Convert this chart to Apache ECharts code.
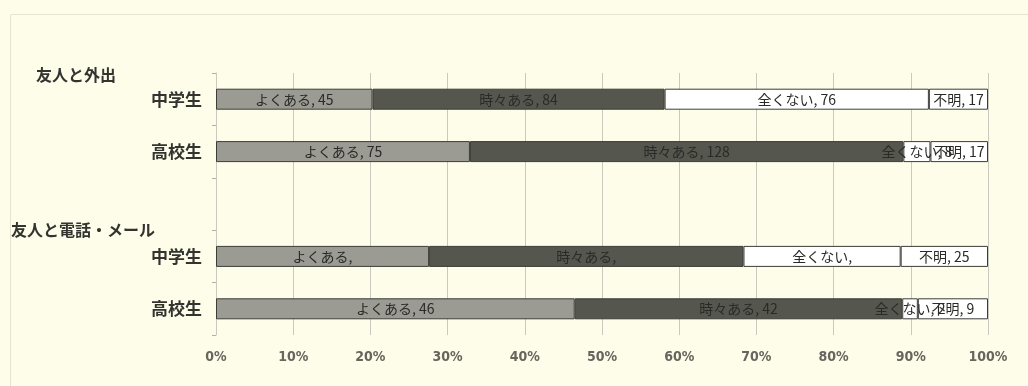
<!DOCTYPE html>
<html>
<head>
<meta charset="utf-8">
<style>
html,body{margin:0;padding:0;background:#fdfde9;}
#c{width:1028px;height:386px;}
</style>
<script src="https://cdn.jsdelivr.net/npm/echarts@6/dist/echarts.min.js"></script>
</head>
<body>
<div id="c"></div>
<script>
// ---- data ----
const categories = ['中学生', '高校生', '', '中学生', '高校生'];
const groupLabels = ['友人と外出', '友人と電話・メール'];
const seriesNames = ['よくある', '時々ある', '全くない', '不明'];
const often     = [45, 75, null, 61, 46];
const sometimes = [84, 128, null, 90, 42];
const never     = [76, 8, null, 45, 2];
const unknown   = [17, 17, null, 25, 9];
const xTickValues = [0, 10, 20, 30, 40, 50, 60, 70, 80, 90, 100];
// labels whose number is not shown in the original (row index, series index)
const numberHidden = ['3-0', '3-1', '3-2'];

const counts = [often, sometimes, never, unknown];
const totals = categories.map((c, i) =>
  counts.reduce((s, arr) => s + (arr[i] == null ? 0 : arr[i]), 0));

const colors = ['#9b9b94', '#55574f', '#ffffff', '#ffffff'];

const series = seriesNames.map((name, si) => ({
  name: name,
  type: 'bar',
  stack: 'total',
  barWidth: 21,
  itemStyle: { color: colors[si], borderColor: '#3d3d38', borderWidth: 1 },
  label: {
    show: true,
    position: 'inside',
    color: '#2a2a28',
    fontSize: 14,
    fontFamily: 'Noto Sans CJK JP',
    formatter: function (p) {
      const cnt = counts[si][p.dataIndex];
      if (numberHidden.indexOf(p.dataIndex + '-' + si) >= 0) return name + ',';
      return name + ', ' + cnt;
    }
  },
  data: counts[si].map((v, i) => v == null ? null : {
    value: v / totals[i] * 100
  })
}));

const chart = echarts.init(document.getElementById('c'));
chart.setOption({
  backgroundColor: '#fdfde9',
  animation: false,
  grid: { left: 216, right: 40, top: 73, bottom: 51 },
  xAxis: {
    type: 'value',
    min: 0, max: 100, interval: 10,
    axisLine: { show: false },
    axisTick: { show: false },
    splitLine: { show: true, lineStyle: { color: '#c9c9bd', width: 1 } },
    axisLabel: {
      margin: 15,
      fontSize: 14,
      fontWeight: 'bold',
      fontFamily: 'DejaVu Sans Condensed',
      color: '#66665e',
      formatter: function (v) { return xTickValues.indexOf(v) >= 0 ? v + '%' : ''; }
    }
  },
  yAxis: {
    type: 'category',
    inverse: true,
    data: categories,
    axisLine: { show: true, lineStyle: { color: '#c9c9bd' } },
    axisTick: { show: true, length: 4, lineStyle: { color: '#b0b0a4' } },
    axisLabel: {
      margin: 14,
      fontSize: 17,
      fontWeight: 'bold',
      fontFamily: 'Noto Sans CJK JP',
      color: '#333330'
    }
  },
  graphic: [
    { type: 'rect', left: 8, top: 12, shape: { width: 1030, height: 390 },
      style: { fill: 'none', stroke: '#e4e4d2', lineWidth: 1 }, silent: true },
    { type: 'text', left: 36, top: 67,
      style: { text: groupLabels[0], font: 'bold 16px "Noto Sans CJK JP"', fill: '#333330' } },
    { type: 'text', left: 11, top: 222,
      style: { text: groupLabels[1], font: 'bold 16px "Noto Sans CJK JP"', fill: '#333330' } }
  ],
  series: series
});
</script>
</body>
</html>
